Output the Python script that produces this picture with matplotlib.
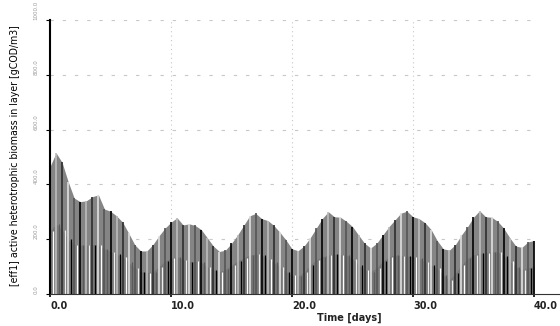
import matplotlib.pyplot as plt
import numpy as np

t_days = np.arange(0, 40.01, 0.5)
upper = [465, 515, 480, 410, 350, 337, 340, 355, 362, 310,
         302, 285, 262, 222, 180, 157, 157, 180, 212, 240,
         262, 278, 252, 256, 250, 235, 205, 175, 155, 160,
         185, 215, 250, 285, 294, 275, 268, 250, 225, 197,
         165, 158, 175, 205, 240, 275, 300, 282, 280, 265,
         246, 215, 185, 168, 185, 215, 245, 270, 295, 302,
         282, 275, 260, 235, 195, 165, 160, 180, 215, 245,
         280, 304, 282, 280, 265, 240, 205, 175, 170, 190,
         195]
lower = [230, 255, 235, 200, 180, 178, 178, 180, 180, 165,
         155, 145, 136, 115, 95, 82, 78, 80, 100, 120,
         131, 135, 125, 118, 120, 115, 100, 88, 81, 90,
         105, 120, 132, 142, 145, 142, 128, 115, 100, 82,
         68, 65, 80, 105, 125, 136, 142, 145, 143, 142,
         128, 105, 88, 82, 95, 120, 135, 142, 140, 138,
         136, 130, 118, 105, 94, 70, 51, 75, 105, 130,
         142, 148, 150, 154, 154, 140, 120, 100, 88, 95,
         100]

x_ticks = [0, 10, 20, 30, 40]
x_labels = ['0.0', '10.0', '20.0', '30.0', '40.0']
y_ticks = [0, 200, 400, 600, 800, 1000]
y_labels = ['0.0', '200.0', '400.0', '600.0', '800.0', '1000.0']

fig = plt.figure(figsize=(5.6, 3.26), dpi=100)
ax = fig.add_axes([0.0893, 0.0982, 0.9107, 0.8405])

# grid first so the data sits over it
ax.hlines(y_ticks[1:], 0, 40, colors='#c8c8c8', lw=0.8, linestyles=(0, (3, 8)), zorder=0)
ax.vlines(x_ticks[1:4], 0, 1000, colors='#c8c8c8', lw=0.8, linestyles=(0, (1, 3)), zorder=0)

ax.fill_between(t_days, 0, upper, color='#858585', lw=0, zorder=1)
ax.fill_between(t_days, 0, lower, color='#777777', lw=0, zorder=1)

# the daily swings are too dense to resolve, so stripes stand in for them
top_cols = ['black', '#bdbdbd', '#2e2e2e', '#e0e0e0', '#555555']
cols = [top_cols[i % 5] for i in range(len(t_days))]
ax.vlines(t_days, 0, upper, colors=cols, lw=1.2, zorder=2)
low_cols = ['white', '#5a5a5a', '#eeeeee', 'black']
cols2 = [low_cols[i % 4] for i in range(len(t_days) - 1)]
ax.vlines(t_days[:-1] + 0.25, 0, lower[:-1], colors=cols2, lw=0.9, zorder=2)

ax.set_xlim(0, 42.15)
ax.set_ylim(0, 1000)

for s in ['top', 'right']:
    ax.spines[s].set_visible(False)
ax.spines['left'].set_linewidth(1.5)
ax.spines['bottom'].set_linewidth(0.8)
ax.spines['bottom'].set_color('#333333')

ax.set_xticks(x_ticks)
ax.set_xticklabels(x_labels, ha='left', fontsize=7, fontweight='bold', color='#222222')
ax.tick_params(axis='x', length=2, width=1.2, pad=3)

ax.set_yticks(y_ticks)
ax.set_yticklabels(y_labels, rotation=90, va='bottom', ha='center', fontsize=4, color='#999999')
ax.tick_params(axis='y', length=3, width=0.8, pad=7)

ax.set_xlabel('Time [days]', fontsize=7, fontweight='bold', color='#222222')
ax.xaxis.set_label_coords(0.587, -0.07)

fig.text(15 / 560, 1 - 156 / 326, '[eff1] active heterotrophic biomass in layer [gCOD/m3]',
         rotation=90, ha='center', va='center', fontsize=7.6,
         family=['Liberation Sans Narrow', 'DejaVu Sans'], fontstretch='condensed')

fig.savefig('out.png', dpi=100)
